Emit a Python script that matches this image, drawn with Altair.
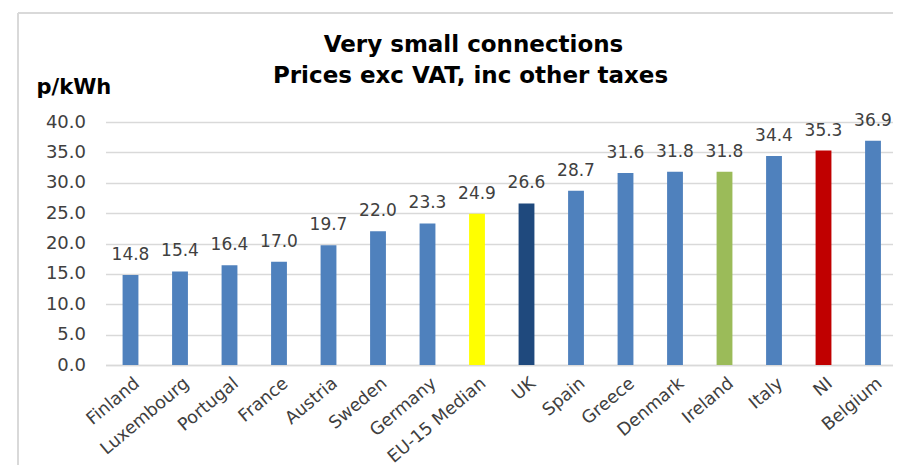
import altair as alt
import pandas as pd

countries = ["Finland", "Luxembourg", "Portugal", "France", "Austria", "Sweden",
             "Germany", "EU-15 Median", "UK", "Spain", "Greece", "Denmark",
             "Ireland", "Italy", "NI", "Belgium"]
prices = [14.8, 15.4, 16.4, 17.0, 19.7, 22.0, 23.3, 24.9, 26.6, 28.7, 31.6,
          31.8, 31.8, 34.4, 35.3, 36.9]
bar_colors = ["#4f81bd", "#4f81bd", "#4f81bd", "#4f81bd", "#4f81bd", "#4f81bd",
              "#4f81bd", "#ffff00", "#1f497d", "#4f81bd", "#4f81bd", "#4f81bd",
              "#9bbb59", "#4f81bd", "#c00000", "#4f81bd"]
y_ticks = [0, 5, 10, 15, 20, 25, 30, 35, 40]
title_lines = ["Very small connections", "Prices exc VAT, inc other taxes"]

df = pd.DataFrame({"country": countries, "price": prices, "color": bar_colors})

W, H = 787.5, 243
NUM_FONT = "DejaVu Sans"

x_scale = alt.Scale(paddingInner=0.68, paddingOuter=0.2945, align=0.586)
y_scale = alt.Scale(domain=[0, 40], nice=False)

x_enc = alt.X("country:N", sort=countries, scale=x_scale,
              axis=alt.Axis(title=None, labelAngle=-40, labelAlign="right",
                            labelBaseline="top", labelFont=NUM_FONT, labelFontSize=17.5,
                            labelColor="#404040", labelPadding=9, labelOffset=1,
                            ticks=False, domainColor="#d9d9d9", domainWidth=1.5))
y_enc = alt.Y("price:Q", scale=y_scale,
              axis=alt.Axis(values=y_ticks, format=".1f", title="p/kWh",
                            labelOverlap=False,
                            titleAngle=0, titleAlign="left", titleBaseline="alphabetic",
                            titleX=-69.5, titleY=-29, titleFont=NUM_FONT,
                            titleFontSize=21, titleFontWeight="bold", titleColor="black",
                            labelFont=NUM_FONT, labelFontSize=18, labelColor="#404040",
                            labelPadding=20, ticks=False, domain=False,
                            grid=True, gridColor="#d9d9d9", gridWidth=1.5))

base = alt.Chart(df)
bars = base.mark_bar().encode(x=x_enc, y=y_enc, color=alt.Color("color:N", scale=None))
labels = base.mark_text(baseline="alphabetic", dy=-15, font=NUM_FONT, fontSize=17,
                        color="#404040").encode(
    x=x_enc, y=y_enc, text=alt.Text("price:Q", format=".1f"))

one = pd.DataFrame({"k": [0]})
frame_left = alt.Chart(one).mark_rule(color="#d9d9d9", strokeWidth=2).encode(
    x=alt.value(-87.5), y=alt.value(-109), y2=alt.value(360))
frame_top = alt.Chart(one).mark_rule(color="#d9d9d9", strokeWidth=2).encode(
    x=alt.value(-87.5), x2=alt.value(W + 20), y=alt.value(-109))
title1 = alt.Chart(one).mark_text(font=NUM_FONT, fontSize=23, fontWeight="bold",
                                  color="black", align="center",
                                  baseline="alphabetic").encode(
    x=alt.value(368), y=alt.value(-70), text=alt.value(title_lines[0]))
title2 = alt.Chart(one).mark_text(font=NUM_FONT, fontSize=23, fontWeight="bold",
                                  color="black", align="center",
                                  baseline="alphabetic").encode(
    x=alt.value(365), y=alt.value(-39), text=alt.value(title_lines[1]))

chart = alt.layer(frame_left, frame_top, bars, labels, title1, title2).properties(
    width=W, height=H,
    autosize=alt.AutoSizeParams(type="none"),
    padding={"left": 97.5, "top": 114, "right": 0, "bottom": 100},
).configure_view(stroke=None)

chart.save("out.html", embed_options={"renderer": "svg", "actions": False})
